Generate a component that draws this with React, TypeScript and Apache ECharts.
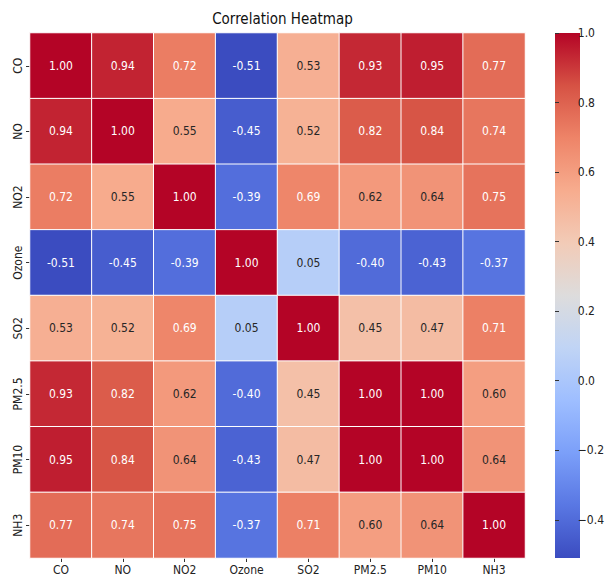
import React, { useEffect, useRef } from "react";
import * as echarts from "echarts";

const categories = ["CO", "NO", "NO2", "Ozone", "SO2", "PM2.5", "PM10", "NH3"];
const rowCO = [1.0, 0.94, 0.72, -0.51, 0.53, 0.93, 0.95, 0.77];
const rowNO = [0.94, 1.0, 0.55, -0.45, 0.52, 0.82, 0.84, 0.74];
const rowNO2 = [0.72, 0.55, 1.0, -0.39, 0.69, 0.62, 0.64, 0.75];
const rowOzone = [-0.51, -0.45, -0.39, 1.0, 0.05, -0.4, -0.43, -0.37];
const rowSO2 = [0.53, 0.52, 0.69, 0.05, 1.0, 0.45, 0.47, 0.71];
const rowPM25 = [0.93, 0.82, 0.62, -0.4, 0.45, 1.0, 1.0, 0.6];
const rowPM10 = [0.95, 0.84, 0.64, -0.43, 0.47, 1.0, 1.0, 0.64];
const rowNH3 = [0.77, 0.74, 0.75, -0.37, 0.71, 0.6, 0.64, 1.0];
const rows = [rowCO, rowNO, rowNO2, rowOzone, rowSO2, rowPM25, rowPM10, rowNH3];
const colorbarTicks = [-0.4, -0.2, 0.0, 0.2, 0.4, 0.6, 0.8, 1.0];
const vMin = -0.51;
const vMax = 1.0;

const COOLWARM = [
  "#3b4cc0", "#5977e3", "#7b9ff9", "#9ebeff", "#c0d4f5", "#dddcdc",
  "#f2cbb7", "#f7ac8e", "#ee8468", "#d65244", "#b40426",
];

const FONT = "'DejaVu Sans Condensed', 'DejaVu Sans'";

export default function App() {
  const ref = useRef<HTMLDivElement>(null);
  useEffect(() => {
    if (!ref.current) return;
    const chart = echarts.init(ref.current, null, { renderer: "svg" });
    const data: any[] = [];
    rows.forEach((row, r) => {
      row.forEach((v, c) => {
        const white = v > 0.665 || v < -0.2;
        data.push({
          value: [c, r, v],
          label: { color: white ? "#ffffff" : "#262626" },
        });
      });
    });
    const gx = 30, gy = 33, gw = 495, gh = 525;
    const cbx = 555, cbw = 25;
    chart.setOption({
      animation: false,
      backgroundColor: "#ffffff",
      textStyle: { fontFamily: FONT },
      title: {
        text: "Correlation Heatmap",
        left: gx + gw / 2,
        textAlign: "center",
        top: 6,
        textStyle: { fontFamily: FONT, fontSize: 15, fontWeight: "normal", color: "#111" },
      },
      grid: [
        { left: gx, top: gy, width: gw, height: gh },
        { left: cbx, top: gy, width: cbw, height: gh },
      ],
      xAxis: [
        {
          type: "category",
          data: categories,
          gridIndex: 0,
          position: "bottom",
          axisLine: { show: false },
          axisTick: { show: true, alignWithLabel: true, length: 4, lineStyle: { color: "#333" } },
          axisLabel: { fontFamily: FONT, fontSize: 12, color: "#222", margin: 6 },
          splitLine: { show: false },
        },
        {
          type: "value",
          gridIndex: 1,
          show: false,
          min: 0,
          max: 1,
        },
      ],
      yAxis: [
        {
          type: "category",
          data: categories,
          gridIndex: 0,
          inverse: true,
          axisLine: { show: false },
          axisTick: { show: true, alignWithLabel: true, length: 4, lineStyle: { color: "#333" } },
          axisLabel: { fontFamily: FONT, fontSize: 12, color: "#222", rotate: 90, margin: 6 },
          splitLine: { show: false },
        },
        {
          type: "value",
          gridIndex: 1,
          position: "right",
          min: vMin,
          max: vMax,
          axisLine: { show: false },
          splitLine: { show: false },
          axisTick: {
            show: true,
            length: 4,
            lineStyle: { color: "#333" },
            customValues: colorbarTicks,
          },
          axisLabel: {
            show: true,
            fontFamily: FONT,
            fontSize: 12,
            color: "#222",
            margin: 8,
            customValues: colorbarTicks,
            formatter: (v: number) =>
              v < 0 ? "\u2212" + Math.abs(v).toFixed(1) : v.toFixed(1),
          },
        },
      ],
      visualMap: {
        show: false,
        type: "continuous",
        min: vMin,
        max: vMax,
        seriesIndex: 0,
        inRange: { color: COOLWARM },
      },
      graphic: [
        {
          type: "rect",
          shape: { x: cbx, y: gy, width: cbw, height: gh },
          style: {
            fill: new echarts.graphic.LinearGradient(
              0, 1, 0, 0,
              COOLWARM.map((c, i) => ({ offset: i / (COOLWARM.length - 1), color: c }))
            ),
          },
          z: -1,
        },
      ],
      series: [
        {
          type: "heatmap",
          xAxisIndex: 0,
          yAxisIndex: 0,
          data,
          label: {
            show: true,
            fontFamily: FONT,
            fontSize: 12,
            formatter: (p: any) => p.value[2].toFixed(2),
          },
          itemStyle: { borderColor: "#ffffff", borderWidth: 1 },
          emphasis: { disabled: true },
        },
      ],
    });
    return () => chart.dispose();
  }, []);
  return (
    <div
      ref={ref}
      style={{ position: "fixed", left: 0, top: 0, width: 607, height: 580 }}
    />
  );
}
